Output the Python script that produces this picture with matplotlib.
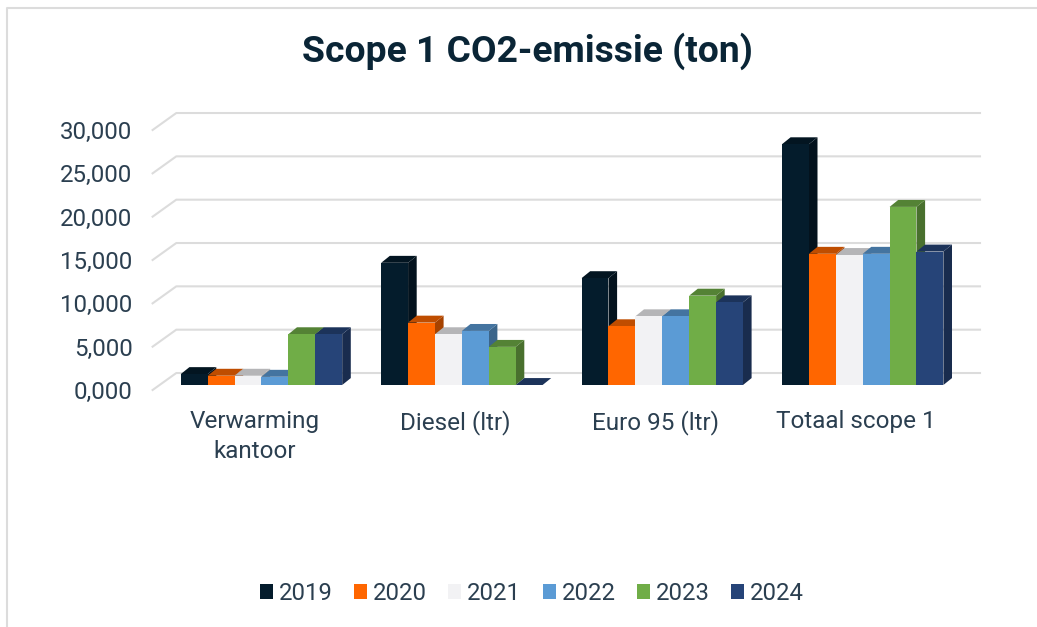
import numpy as np
import matplotlib
matplotlib.use('Agg')
import matplotlib.pyplot as plt
from matplotlib.patches import Patch, Polygon
from matplotlib.lines import Line2D
from matplotlib.colors import to_rgb

plt.rcParams['font.family'] = ['Roboto', 'DejaVu Sans']

categories = ['Verwarming\nkantoor', 'Diesel (ltr)', 'Euro 95 (ltr)', 'Totaal scope 1']
years = ['2019', '2020', '2021', '2022', '2023', '2024']
v2019 = [1.26, 14.10, 12.33, 27.78]
v2020 = [1.07, 7.20, 6.78, 15.14]
v2021 = [1.07, 5.86, 7.93, 15.00]
v2022 = [0.95, 6.24, 7.93, 15.14]
v2023 = [5.86, 4.40, 10.31, 20.55]
v2024 = [5.86, 0.00, 9.54, 15.40]
series = [v2019, v2020, v2021, v2022, v2023, v2024]
colors = ['#041c2c', '#ff6600', '#f2f2f4', '#5b9bd5', '#70ad47', '#264478']
yticks = [0, 5, 10, 15, 20, 25, 30]
yticklabels = ['0,000', '5,000', '10,000', '15,000', '20,000', '25,000', '30,000']

W, H = 1037, 627
text_col = '#2b3f50'
grid_col = '#dcdcdc'

fig = plt.figure(figsize=(W / 100, H / 100), dpi=100)
ax = fig.add_axes([152.6 / W, (H - 390) / H, (956.3 - 152.6) / W, 260 / H])

pitch = 7.45       # one group, in bar widths
xmin, xmax = -1.048, 28.83
wall_dx, wall_dy = 0.881, 1.96   # depth of the floor
bar_dx, bar_dy = 0.32, 0.80      # depth of a column
floor = 0.577      # where column fronts stand

ax.set_xlim(xmin, xmax)
ax.set_ylim(0, 30)
ax.set_facecolor('none')
for s in ax.spines.values():
    s.set_visible(False)

# gridlines on back wall + diagonal on side wall
for t in yticks:
    ax.plot([xmin, xmin + wall_dx, xmax + wall_dx], [t, t + wall_dy, t + wall_dy],
            color=grid_col, lw=1.5, clip_on=False, zorder=1)


def shade(c, f):
    return tuple(v * f for v in to_rgb(c))


z = 2
for i, vals in enumerate(zip(*series)):
    for j, v in enumerate(vals):
        x0 = i * pitch + j
        x1 = x0 + 1
        top = floor + v
        c = colors[j]
        side = Polygon([(x1, floor), (x1 + bar_dx, floor + bar_dy),
                        (x1 + bar_dx, top + bar_dy), (x1, top)],
                       fc=shade(c, 0.65), ec='none', clip_on=False, zorder=z)
        cap = Polygon([(x0, top), (x0 + bar_dx, top + bar_dy),
                       (x1 + bar_dx, top + bar_dy), (x1, top)],
                      fc=shade(c, 0.75), ec='none', clip_on=False, zorder=z)
        ax.add_patch(side)
        ax.add_patch(cap)
        ax.bar(x0, v, width=1, bottom=floor, align='edge', color=c, clip_on=False, zorder=z + 1)
        z += 2

ax.set_yticks(yticks)
ax.set_yticklabels(yticklabels, fontsize=17.3, color=text_col)
ax.tick_params(axis='y', length=0, pad=14.5)

ax.set_xticks([i * pitch + 2.75 for i in range(4)])
ax.set_xticklabels(categories, fontsize=17.5, color=text_col, linespacing=1.37)
ax.tick_params(axis='x', length=0, pad=14.5)

fig.text(527 / W, 1 - 51 / H, 'Scope 1 CO2-emissie (ton)', ha='center', va='center',
         fontsize=26.8, fontweight='bold', color='#0a2536')

handles = [Patch(fc=c, ec='none', label=y) for c, y in zip(colors, years)]
fig.legend(handles=handles, loc='center', bbox_to_anchor=(532 / W, 1 - 593.5 / H), ncol=6,
           frameon=False, fontsize=17.2, labelcolor=text_col, handlelength=0.54,
           handleheight=0.54, handletextpad=0.25, columnspacing=0.9)

# chart frame
fig.add_artist(Line2D([6.5 / W, 6.5 / W, 1], [0, 1 - 7.5 / H, 1 - 7.5 / H], color=grid_col, lw=1.5))

fig.savefig('out.png', dpi=100)
